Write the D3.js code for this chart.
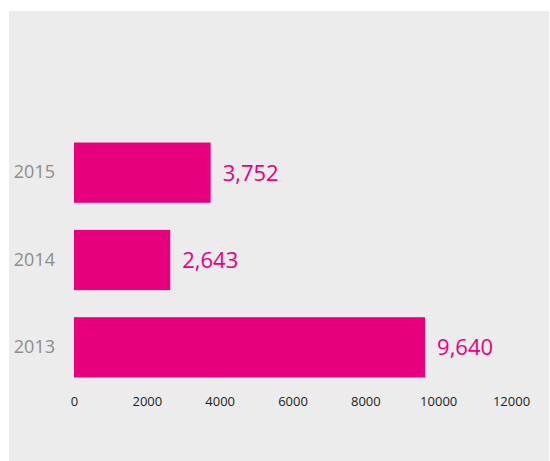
<!DOCTYPE html>
<html>
<head>
<meta charset="utf-8">
<script src="https://cdn.jsdelivr.net/npm/d3@7"></script>
<style>
  body { margin: 0; background: #fff; }
  svg { display: block; }
</style>
</head>
<body>
<div id="chart"></div>
<script>
var width = 550;
var height = 461;

var years = ["2015", "2014", "2013"];
var values = [3752, 2643, 9640];
var tickValues = [0, 2000, 4000, 6000, 8000, 10000, 12000];

var pink = "#e6007e";

var svg = d3.select("#chart").append("svg")
  .attr("width", width)
  .attr("height", height);

// grey panel
svg.append("rect")
  .attr("x", 9)
  .attr("y", 11)
  .attr("width", 540)
  .attr("height", 450)
  .attr("fill", "#ececec");

var x = d3.scaleLinear()
  .domain([0, 12000])
  .range([74, 511]);

var y = d3.scaleBand()
  .domain(years)
  .range([129, 391])
  .paddingInner(0.31)
  .paddingOuter(0.155);

var rows = years.map(function(d, i){ return {year: d, value: values[i]}; });

svg.selectAll("rect.bar")
  .data(rows)
  .enter()
  .append("rect")
  .attr("class", "bar")
  .attr("x", x(0))
  .attr("y", function(d){ return y(d.year); })
  .attr("width", function(d){ return x(d.value) - x(0); })
  .attr("height", y.bandwidth())
  .attr("fill", pink);

// value labels
svg.selectAll("text.val")
  .data(rows)
  .enter()
  .append("text")
  .attr("class", "val")
  .attr("x", function(d){ return x(d.value) + 12; })
  .attr("y", function(d){ return y(d.year) + y.bandwidth()/2; })
  .attr("dy", "0.36em")
  .attr("font-family", "'Open Sans', sans-serif")
  .attr("font-size", "22px")
  .attr("fill", pink)
  .text(function(d){ return d3.format(",")(d.value); });

// year labels
var yAxis = svg.append("g")
  .attr("transform", "translate(55,0)")
  .call(d3.axisLeft(y).tickSize(0).tickPadding(0));
yAxis.select(".domain").remove();
yAxis.selectAll("text")
  .attr("font-family", "'Open Sans', sans-serif")
  .attr("font-size", "18px")
  .attr("fill", "#8c8c8c");

// x axis labels
var xAxis = svg.append("g")
  .attr("transform", "translate(0,397)")
  .call(d3.axisBottom(x).tickValues(tickValues).tickSize(0).tickPadding(0).tickFormat(d3.format("d")));
xAxis.select(".domain").remove();
xAxis.selectAll("text")
  .attr("font-family", "'Open Sans', sans-serif")
  .attr("font-size", "13px")
  .attr("fill", "#222");
</script>
</body>
</html>
